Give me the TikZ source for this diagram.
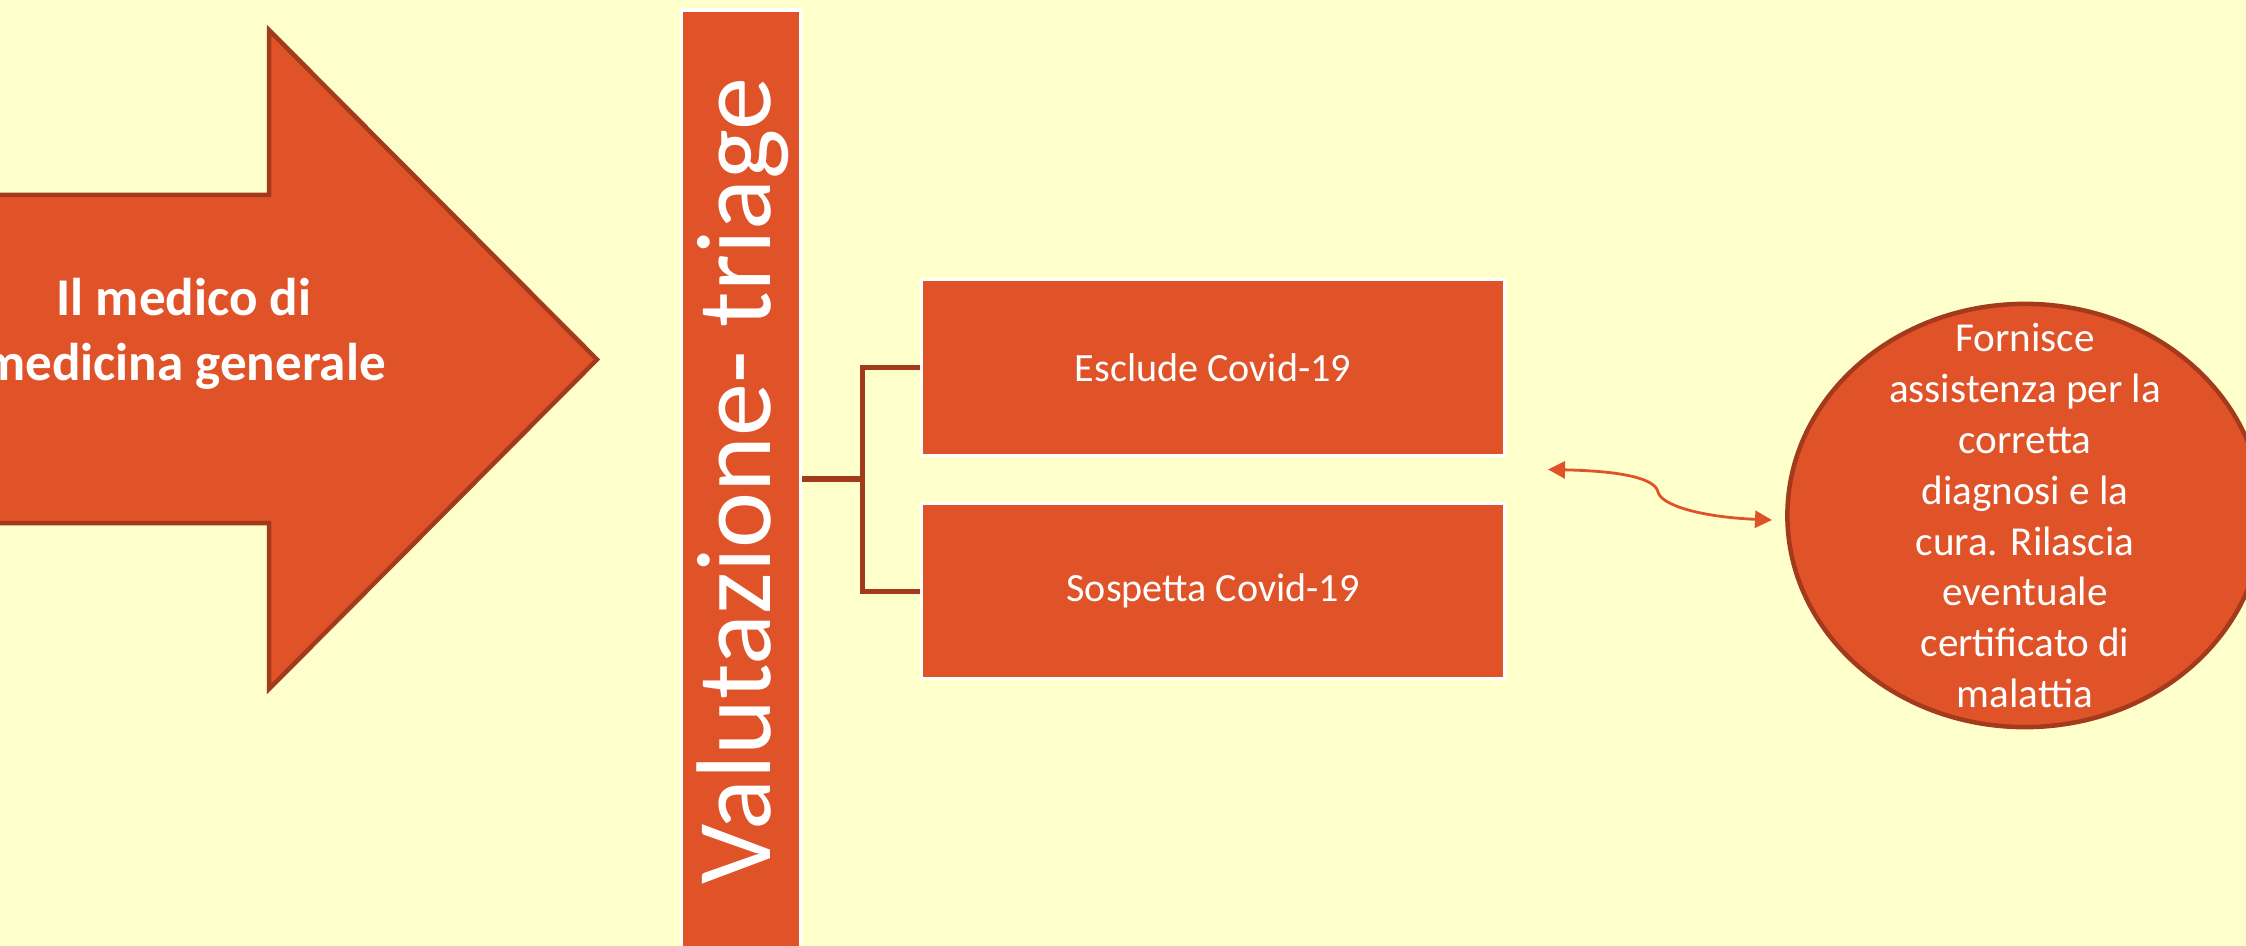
\documentclass[tikz,border=0pt]{standalone}
\usepackage{fontspec}
\setmainfont{Carlito}
\usetikzlibrary{shapes.geometric,arrows.meta,calc}
\definecolor{bgyellow}{HTML}{FFFFCC}
\definecolor{rust}{HTML}{E05328}
\definecolor{rustdark}{HTML}{A33A1B}
\begin{document}
\begin{tikzpicture}[x=0.01cm,y=-0.01cm,
  bigarrow/.style={fill=rust,draw=rustdark,line width=0.045cm,line join=miter},
  arrowtxt/.style={text=white,align=center,inner sep=0pt,font=\bfseries\fontsize{15.1}{18.2}\selectfont},
  barbox/.style={rectangle,fill=rust,draw=white,line width=0.035cm,minimum width=1.19cm,minimum height=9.48cm,inner sep=0pt},
  bartxt/.style={text=white,inner sep=0pt,font=\fontsize{30.2}{36}\selectfont},
  choicebox/.style={rectangle,fill=rust,draw=white,line width=0.035cm,minimum width=5.83cm,minimum height=1.76cm,inner sep=0pt,text=white,font=\fontsize{11.4}{13.7}\selectfont},
  link/.style={draw=rustdark,line width=0.05cm},
  bubble/.style={ellipse,fill=rust,draw=rustdark,line width=0.045cm,minimum width=4.75cm,minimum height=4.23cm,inner sep=0pt},
  bubbletxt/.style={text=white,align=center,inner sep=0pt,font=\fontsize{11.7}{14.5}\selectfont},
  curvy/.style={draw=rust,line width=0.028cm,{Triangle[length=0.17cm,width=0.17cm]}-{Triangle[length=0.17cm,width=0.17cm]}}
]
\useasboundingbox (0,0) rectangle (2246,946);
\fill[bgyellow] (0,0) rectangle (2246,946);
\begin{scope}
\clip (0,0) rectangle (2246,946);
% big arrow
\draw[bigarrow] (-20,195) -- (269,195) -- (269,30) -- (597,359.5) -- (269,689) -- (269,523) -- (-20,523) -- cycle;
\node[arrowtxt,anchor=base] (mmg) at (184,380) {Il medico di\\medicina generale};
% vertical bar
\node[barbox] (bar) at (741,484.5) {};
\node[bartxt,rotate=90,anchor=base] (valut) at (770,481) {Valutazione- triage};
% boxes
\node[choicebox] (excl) at (1213,367.5) {Esclude Covid-19};
\node[choicebox,minimum height=1.75cm] (susp) at (1213,591) {Sospetta Covid-19};
% connector
\coordinate (fork) at (862,479);
\draw[link] (bar.east |- fork) -- (fork);
\draw[link] (excl.west) -| (fork) |- (susp.west);
% ellipse
\node[bubble] (care) at (2025,515.5) {};
\node[bubbletxt] (caretxt) at (care.center) {Fornisce\\assistenza per la\\corretta\\diagnosi e la\\cura. Rilascia\\eventuale\\certificato di\\malattia};
% curvy double arrow
\coordinate (ca) at (1548,469.5);
\coordinate (cm) at (1658,492);
\coordinate (cb) at (1772,520);
\draw[curvy] (ca) .. controls (1620,471) and (1655,478) .. (cm) .. controls (1661,505) and (1700,517) .. (cb);
\end{scope}
\end{tikzpicture}
\end{document}
